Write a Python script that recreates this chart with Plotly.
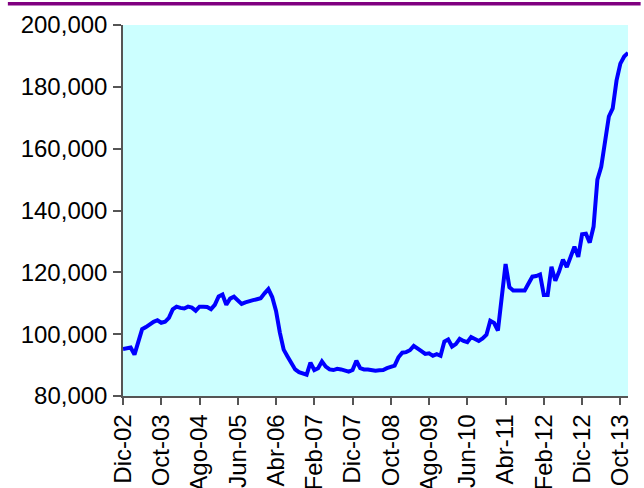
import plotly.graph_objects as go

month_names = ["Ene", "Feb", "Mar", "Abr", "May", "Jun", "Jul", "Ago", "Sep", "Oct", "Nov", "Dic"]
start_year, start_month = 2002, 12  # Dic-02
n_points = 133                       # Dic-02 .. Dic-13

categories = []
for k in range(n_points):
    m = (start_month - 1 + k) % 12
    yr = start_year + (start_month - 1 + k) // 12
    categories.append(f"{month_names[m]}-{yr % 100:02d}")

values = [
    95200, 95600, 95700, 93400, 97500, 101600, 102300, 103200, 104000, 104500,
    103700, 104000, 105300, 108000, 108900, 108500, 108300, 108900, 108600, 107600,
    108900, 108900, 108800, 108100, 109500, 112200, 112800, 109500, 111500, 112100,
    111000, 109800, 110300, 110500, 111000, 111300, 111600, 113200, 114600, 112000,
    107500, 100500, 95000, 92800, 90800, 88600, 87700, 87200, 86900, 90800,
    88400, 89000, 91200, 89500, 88600, 88400, 88800, 88600, 88200, 87900,
    88400, 91400, 89000, 88600, 88600, 88300, 88200, 88300, 88400, 89000,
    89500, 89800, 92500, 94000, 94200, 94800, 96200, 95500, 94500, 93600,
    93800, 93000, 93500, 93000, 97600, 98300, 96000, 96800, 98500, 97800,
    97400, 99100, 98600, 97800, 98600, 99800, 104300, 103600, 101200, 112000,
    122700, 115200, 114100, 114100, 114100, 114100, 116400, 118600, 118800, 119300,
    112700, 112700, 121800, 117300, 120300, 124100, 121700, 125100, 128300, 125000,
    132300, 132500, 129600, 134800, 150000, 154100, 162300, 170400, 173000, 182000,
    187500, 189800, 191000,
]

tick_labels = categories[::10]
y_ticks = [80000, 100000, 120000, 140000, 160000, 180000, 200000]

fig = go.Figure()
fig.add_trace(go.Scatter(
    x=categories, y=values, mode="lines",
    line=dict(color="#0000FF", width=4),
    showlegend=False,
))

font = dict(family="Liberation Sans, Arial, sans-serif", size=24, color="#000000")

fig.update_layout(
    width=644, height=488,
    margin=dict(l=123, r=16, t=25, b=92, autoexpand=False),
    paper_bgcolor="#FFFFFF",
    plot_bgcolor="#CCFFFF",
    font=font,
    xaxis=dict(
        type="category",
        range=[0, n_points - 1],
        tickmode="array", tickvals=tick_labels, ticktext=tick_labels,
        tickangle=-90,
        ticks="outside", ticklen=7, tickwidth=1.5, tickcolor="#555555",
        showline=True, linecolor="#555555", linewidth=1.5,
        showgrid=False, zeroline=False, automargin=False,
        tickfont=font,
    ),
    yaxis=dict(
        range=[80000, 200000],
        tickmode="array", tickvals=y_ticks,
        tickformat=",",
        ticks="outside", ticklen=8, tickwidth=1.5, tickcolor="#555555",
        ticklabelstandoff=1,
        showline=True, linecolor="#555555", linewidth=1.5,
        showgrid=False, zeroline=False, automargin=False,
        tickfont=font,
    ),
    shapes=[dict(
        type="line", xref="paper", yref="paper",
        x0=-0.228, x1=1.025, y0=1.057, y1=1.057,
        line=dict(color="#800080", width=3.5),
    )],
)

fig.write_html(
    "out.html",
    config={"displayModeBar": False},
    post_script="document.body.style.margin='0';document.body.style.overflow='hidden';",
)
